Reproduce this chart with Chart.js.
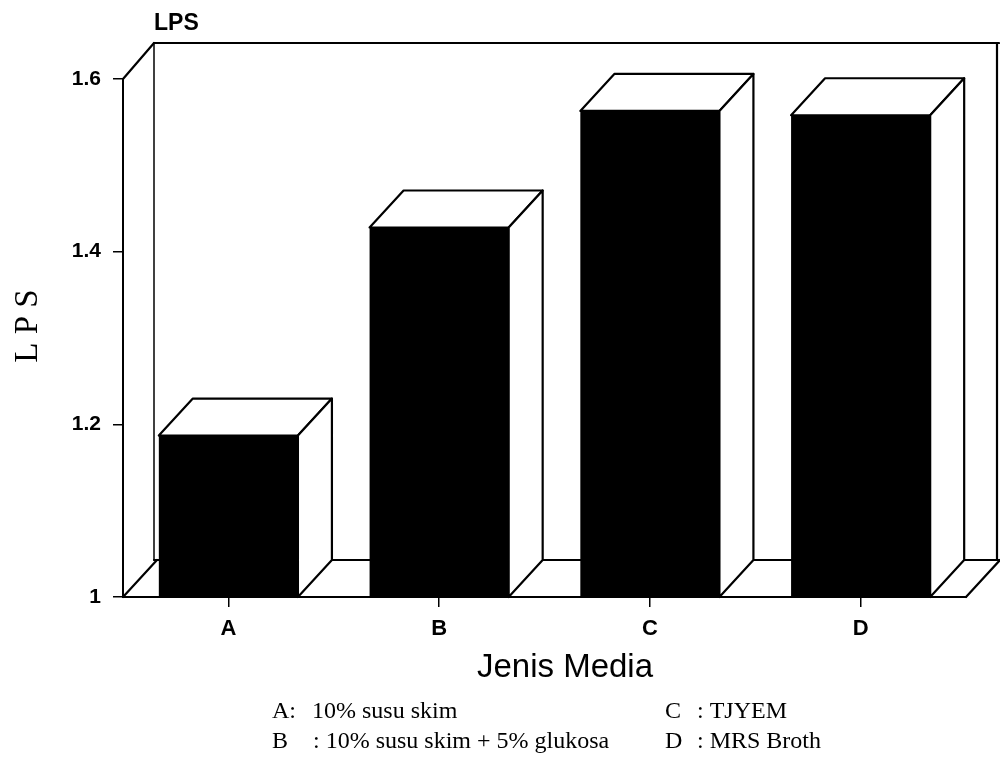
<!DOCTYPE html>
<html>
<head>
<meta charset="utf-8">
<script src="https://cdn.jsdelivr.net/npm/chart.js@4.4.1/dist/chart.umd.min.js"></script>
<style>
  html, body { margin: 0; padding: 0; background: #ffffff; }
  #wrap { position: relative; width: 1000px; height: 761px; }
</style>
</head>
<body>
<div id="wrap"><canvas id="chart" width="1000" height="761"></canvas></div>
<script>
// Media types and their LPS values
const categories = ['A', 'B', 'C', 'D'];
const lpsValues = [1.187, 1.428, 1.563, 1.558];
const yTickValues = [1, 1.2, 1.4, 1.6];

// Key under the chart
const keyLeftLetters = ['A:', 'B'];
const keyLeftTexts = ['10% susu skim', ': 10% susu skim + 5% glukosa'];
const keyRightLetters = ['C', 'D'];
const keyRightTexts = [': TJYEM', ': MRS Broth'];

const DEPTH_X = 34;
const DEPTH_Y = -37;
const INK = '#000000';

function line(ctx, x1, y1, x2, y2) {
  ctx.beginPath();
  ctx.moveTo(x1, y1);
  ctx.lineTo(x2, y2);
  ctx.stroke();
}

function poly(ctx, pts) {
  ctx.beginPath();
  ctx.moveTo(pts[0][0], pts[0][1]);
  for (let i = 1; i < pts.length; i++) ctx.lineTo(pts[i][0], pts[i][1]);
  ctx.closePath();
  ctx.fillStyle = '#ffffff';
  ctx.fill();
  ctx.stroke();
}

// Back wall, left wall and floor of the box, plus the bar tops and sides
const boxPlugin = {
  id: 'box3d',
  beforeDatasetsDraw(chart) {
    const { ctx, chartArea: a } = chart;
    ctx.save();
    ctx.strokeStyle = INK;
    ctx.lineCap = 'round';
    ctx.lineWidth = 1.5;
    // back wall
    line(ctx, a.left + 31, a.bottom + DEPTH_Y, a.left + 31, a.top - 36);
    ctx.lineWidth = 2.2;
    line(ctx, a.left + 31, a.top - 36, 999, a.top - 36);
    line(ctx, 997, a.top - 36, 997, a.bottom + DEPTH_Y);
    // left wall top edge
    line(ctx, a.left, a.top, a.left + 31, a.top - 36);
    // floor
    line(ctx, a.left + 31, a.bottom + DEPTH_Y, a.right + DEPTH_X, a.bottom + DEPTH_Y);
    line(ctx, a.left, a.bottom, a.left + DEPTH_X, a.bottom + DEPTH_Y);
    line(ctx, a.right, a.bottom, a.right + DEPTH_X, a.bottom + DEPTH_Y);
    line(ctx, a.left, a.bottom, a.right, a.bottom);
    ctx.restore();
  },
  afterDatasetsDraw(chart) {
    const { ctx } = chart;
    const meta = chart.getDatasetMeta(0);
    const yBase = chart.scales.y.getPixelForValue(yTickValues[0]);
    ctx.save();
    ctx.strokeStyle = INK;
    ctx.lineWidth = 2.2;
    ctx.lineJoin = 'round';
    meta.data.forEach((bar) => {
      const L = bar.x - bar.width / 2;
      const R = bar.x + bar.width / 2;
      const T = bar.y;
      const B = yBase;
      // top face
      poly(ctx, [[L, T], [L + DEPTH_X, T + DEPTH_Y], [R + DEPTH_X, T + DEPTH_Y], [R, T]]);
      // right side face
      poly(ctx, [[R, T], [R + DEPTH_X, T + DEPTH_Y], [R + DEPTH_X, B + DEPTH_Y], [R, B]]);
    });
    ctx.restore();
  },
  afterDraw(chart) {
    const { ctx } = chart;
    ctx.save();
    ctx.fillStyle = INK;
    // unit label above the axis
    ctx.font = 'bold 23px "Liberation Sans", Arial, sans-serif';
    ctx.textAlign = 'left';
    ctx.textBaseline = 'alphabetic';
    ctx.fillText('LPS', 154, 30);
    // y axis title
    ctx.save();
    ctx.translate(37, 326);
    ctx.rotate(-Math.PI / 2);
    ctx.font = '33px "Liberation Serif", "Times New Roman", serif';
    ctx.textAlign = 'center';
    ctx.fillText('L P S', 0, 0);
    ctx.restore();
    // x axis title
    ctx.font = '33px "Liberation Sans", Arial, sans-serif';
    ctx.textAlign = 'center';
    ctx.fillText('Jenis Media', 565, 677);
    // key
    ctx.font = '24px "Liberation Serif", "Times New Roman", serif';
    ctx.textAlign = 'left';
    const baselines = [718, 748];
    for (let i = 0; i < 2; i++) {
      ctx.fillText(keyLeftLetters[i], 272, baselines[i]);
      ctx.fillText(keyLeftTexts[i], i === 0 ? 312 : 313, baselines[i]);
      ctx.fillText(keyRightLetters[i], 665, baselines[i]);
      ctx.fillText(keyRightTexts[i], 697, baselines[i]);
    }
    ctx.restore();
  }
};

new Chart(document.getElementById('chart'), {
  type: 'bar',
  data: {
    labels: categories,
    datasets: [{
      data: lpsValues,
      backgroundColor: INK,
      borderWidth: 0,
      barPercentage: 0.66,
      categoryPercentage: 1.0
    }]
  },
  options: {
    responsive: false,
    animation: false,
    devicePixelRatio: 1,
    layout: { padding: { left: 0, right: 34, top: 79, bottom: 124 } },
    plugins: { legend: { display: false }, tooltip: { enabled: false } },
    scales: {
      x: {
        grid: { display: true, drawOnChartArea: false, offset: false, tickLength: 10, color: INK, lineWidth: 1.5 },
        border: { display: true, color: INK, width: 2 },
        ticks: { color: INK, padding: 9, font: { family: '"Liberation Sans", Arial, sans-serif', size: 22, weight: 'bold' } },
        afterFit(scale) { scale.height = 40; }
      },
      y: {
        min: 1,
        max: 1.6,
        afterBuildTicks(scale) { scale.ticks = yTickValues.map(v => ({ value: v })); },
        grid: { display: true, drawOnChartArea: false, tickLength: 10, color: INK, lineWidth: 1.5 },
        border: { display: true, color: INK, width: 2 },
        ticks: {
          color: INK,
          padding: 12,
          font: { family: '"Liberation Sans", Arial, sans-serif', size: 21, weight: 'bold' },
          callback: (v) => (Math.abs(v - 1) < 1e-9 ? '1' : Number(v).toFixed(1))
        },
        afterFit(scale) { scale.width = 123; }
      }
    }
  },
  plugins: [boxPlugin]
});
</script>
</body>
</html>
